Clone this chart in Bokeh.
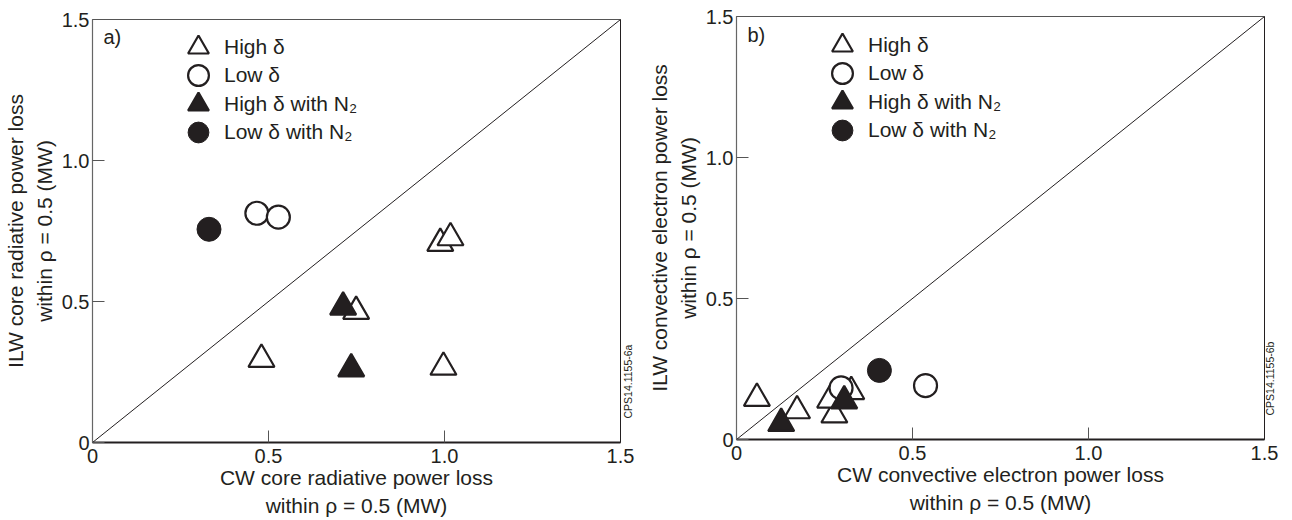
import math
from bokeh.plotting import figure
from bokeh.layouts import row
from bokeh.models import (Range1d, FixedTicker, Label, Legend, LegendItem,
                          PrintfTickFormatter, LinearAxis)
from bokeh.embed import file_html
from bokeh.resources import INLINE

FONT = "Liberation Sans"
INK = "#231f20"

# shared axis setup
ticks = [0, 0.5, 1, 1.5]
tick_labels = ["0", "0.5", "1.0", "1.5"]
diag = [0, 1.5]
legend_labels = ["High δ", "Low δ", "High δ with N₂", "Low δ with N₂"]

# a) core radiative power loss within rho = 0.5 (MW)
a_high_x = [0.48, 0.749, 0.997, 0.988, 1.017]
a_high_y = [0.295, 0.465, 0.267, 0.706, 0.726]
a_low_x = [0.467, 0.528]
a_low_y = [0.813, 0.799]
a_highN_x = [0.712, 0.735]
a_highN_y = [0.48, 0.261]
a_lowN_x = [0.331]
a_lowN_y = [0.756]

# b) convective electron power loss within rho = 0.5 (MW)
b_high_x = [0.058, 0.172, 0.278, 0.266, 0.326]
b_high_y = [0.146, 0.102, 0.087, 0.140, 0.170]
b_low_x = [0.297, 0.537]
b_low_y = [0.183, 0.191]
b_highN_x = [0.127, 0.306]
b_highN_y = [0.057, 0.137]
b_lowN_x = [0.406]
b_lowN_y = [0.245]

# legend rows: pixel distance of each row centre below the top of the frame
legend_rows = [28.5, 57, 85.5, 114]


def make_panel(width, height, left, right, top, bottom, series, tag,
               xtitle, ytitle, code, code_at, code_standoff):
    fh = height - top - bottom
    p = figure(width=width, height=height, output_backend="svg",
               toolbar_location=None, title=None, frame_align=False,
               x_range=Range1d(0, 1.5), y_range=Range1d(0, 1.5),
               min_border_left=left, min_border_right=right,
               min_border_top=top, min_border_bottom=bottom)
    p.grid.visible = False
    p.background_fill_color = "white"
    p.border_fill_color = "white"
    p.outline_line_color = "#555555"
    p.outline_line_width = 1

    for ax in (p.xaxis, p.yaxis):
        ax.ticker = FixedTicker(ticks=ticks)
        ax.formatter = PrintfTickFormatter(format="%.1f")
        ax.major_label_overrides = dict(zip(ticks, tick_labels))
        ax.major_tick_in = 12
        ax.major_tick_out = 0
        ax.major_tick_line_color = "#555555"
        ax.major_tick_line_width = 1
        ax.minor_tick_line_color = None
        ax.major_label_text_font = FONT
        ax.major_label_text_font_size = "20px"
        ax.major_label_text_color = INK
        ax.axis_label_text_font = FONT
        ax.axis_label_text_font_size = "21px"
        ax.axis_label_text_font_style = "normal"
        ax.axis_label_text_color = INK
        ax.axis_label_text_line_height = 1.25
    p.xaxis.axis_line_color = INK
    p.xaxis.axis_line_width = 2
    p.xaxis.major_label_standoff = 6
    p.xaxis.axis_label = "\n".join(xtitle)
    p.xaxis.axis_label_standoff = 0
    p.yaxis.axis_line_color = "#666666"
    p.yaxis.axis_line_width = 1.2
    p.yaxis.major_label_standoff = 3
    p.yaxis.axis_label = "\n".join(ytitle)
    p.yaxis.axis_label_standoff = 3

    # figure code written up the right-hand edge
    code_axis = LinearAxis(ticker=FixedTicker(ticks=[code_at]),
                           major_label_overrides={code_at: code},
                           major_label_orientation=math.pi / 2,
                           major_label_text_font=FONT,
                           major_label_text_font_size="10.5px",
                           major_label_text_color=INK,
                           major_label_standoff=code_standoff,
                           major_tick_in=0, major_tick_out=0,
                           major_tick_line_color=None,
                           minor_tick_line_color=None,
                           axis_line_color=INK, axis_line_width=1)
    p.add_layout(code_axis, "right")

    p.line(diag, diag, line_color=INK, line_width=1)

    (hx, hy), (lx, ly), (hnx, hny), (lnx, lny) = series
    r_high = p.scatter(hx, hy, marker="triangle", size=26, fill_color="white",
                       line_color=INK, line_width=2.2)
    r_low = p.scatter(lx, ly, marker="circle", size=23, fill_color="white",
                      line_color=INK, line_width=2.2)
    r_highN = p.scatter(hnx, hny, marker="triangle", size=26, fill_color=INK,
                        line_color=INK, line_width=2.2)
    r_lowN = p.scatter(lnx, lny, marker="circle", size=24, fill_color=INK,
                       line_color=INK, line_width=1)

    for lab, r, d in zip(legend_labels, [r_high, r_low, r_highN, r_lowN], legend_rows):
        legend = Legend(items=[LegendItem(label=lab, renderers=[r])],
                        location=(80, fh - d - 28),
                        glyph_width=52, glyph_height=56, label_height=56,
                        padding=0, margin=0, label_standoff=0,
                        border_line_color=None, background_fill_alpha=0,
                        label_text_font=FONT, label_text_font_size="21px",
                        label_text_color=INK)
        p.add_layout(legend)

    p.add_layout(Label(x=11, y=fh - 18.5, x_units="screen", y_units="screen",
                       text=tag, text_align="left", text_baseline="middle",
                       text_font=FONT, text_font_size="20px", text_color=INK))
    return p


pa = make_panel(644, 520, 91, 24, 19, 77,
                [(a_high_x, a_high_y), (a_low_x, a_low_y),
                 (a_highN_x, a_highN_y), (a_lowN_x, a_lowN_y)],
                "a)",
                ("CW core radiative power loss", "within ρ = 0.5 (MW)"),
                ("ILW core radiative power loss", "within ρ = 0.5 (MW)"),
                "CPS14.1155-6a", 0.085, 8)

pb = make_panel(648, 520, 92, 28, 16, 81,
                [(b_high_x, b_high_y), (b_low_x, b_low_y),
                 (b_highN_x, b_highN_y), (b_lowN_x, b_lowN_y)],
                "b)",
                ("CW convective electron power loss", "within ρ = 0.5 (MW)"),
                ("ILW convective electron power loss", "within ρ = 0.5 (MW)"),
                "CPS14.1155-6b", 0.085, 6)

layout = row(pa, pb)
open("out.html", "w").write(file_html(layout, INLINE))
